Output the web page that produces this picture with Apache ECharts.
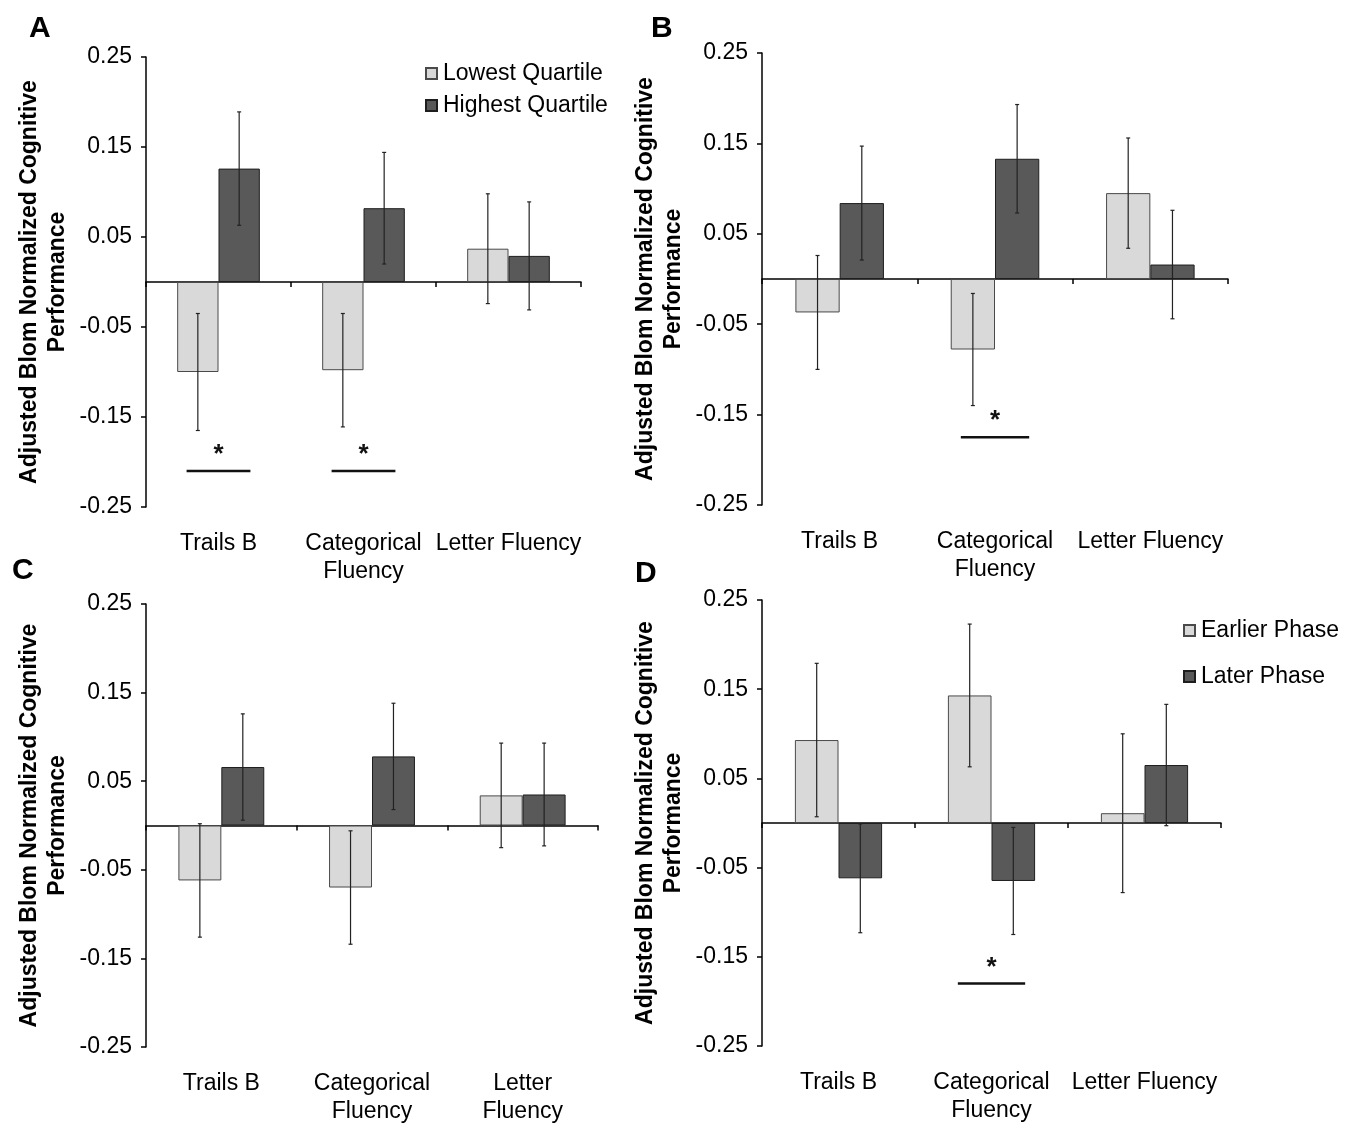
<!DOCTYPE html>
<html><head><meta charset="utf-8">
<script src="https://cdn.jsdelivr.net/npm/echarts@6/dist/echarts.min.js"></script>
<style>html,body{margin:0;padding:0;background:#fff}#c{width:1349px;height:1126px}</style>
</head><body><div id="c"></div>
<script>
// ---- data ----
const catsA = ['Trails B', 'Categorical\nFluency', 'Letter Fluency'];
const catsB = ['Trails B', 'Categorical\nFluency', 'Letter Fluency'];
const catsC = ['Trails B', 'Categorical\nFluency', 'Letter\nFluency'];
const catsD = ['Trails B', 'Categorical\nFluency', 'Letter Fluency'];
const yTicks = [-0.25, -0.15, -0.05, 0.05, 0.15, 0.25];

const namesQ = ['Lowest Quartile', 'Highest Quartile'];
const namesP = ['Earlier Phase', 'Later Phase'];

const aLow = [-0.100, -0.098, 0.037];
const aHigh = [0.126, 0.082, 0.029];
const aLowErr = [0.065, 0.063, 0.061];
const aHighErr = [0.063, 0.062, 0.060];

const bLow = [-0.037, -0.078, 0.095];
const bHigh = [0.084, 0.133, 0.016];
const bLowErr = [0.063, 0.062, 0.061];
const bHighErr = [0.063, 0.060, 0.060];

const cLow = [-0.062, -0.070, 0.034];
const cHigh = [0.066, 0.078, 0.035];
const cLowErr = [0.064, 0.064, 0.059];
const cHighErr = [0.060, 0.060, 0.058];

const dEarly = [0.093, 0.143, 0.011];
const dLate = [-0.062, -0.065, 0.065];
const dEarlyErr = [0.086, 0.080, 0.089];
const dLateErr = [0.061, 0.060, 0.068];

// significance markers: [category index, value]
const sigA = [[0, -0.21], [1, -0.21]];
const sigB = [[1, -0.175]];
const sigC = [];
const sigD = [[1, -0.18]];

// ---- styles ----
const FONT = 'Liberation Sans, Arial, sans-serif';
const FS = 23;
const LIGHT = {color: '#d9d9d9', borderColor: '#4a4a4a', borderWidth: 1};
const DARK = {color: '#595959', borderColor: '#1e1e1e', borderWidth: 1};
const CAT_GAP = 0.43;

const grids = [
  {left: 146, top: 57, width: 435, height: 450},
  {left: 762, top: 53, width: 466, height: 452},
  {left: 146, top: 604, width: 452, height: 444},
  {left: 762, top: 600, width: 459, height: 446}
];

const panels = [
  {cats: catsA, s: [aLow, aHigh], e: [aLowErr, aHighErr], sig: sigA, names: namesQ},
  {cats: catsB, s: [bLow, bHigh], e: [bLowErr, bHighErr], sig: sigB, names: namesQ},
  {cats: catsC, s: [cLow, cHigh], e: [cLowErr, cHighErr], sig: sigC, names: namesQ},
  {cats: catsD, s: [dEarly, dLate], e: [dEarlyErr, dLateErr], sig: sigD, names: namesP}
];

const xAxis = [], yAxis = [], series = [];
panels.forEach((p, i) => {
  xAxis.push({
    gridIndex: i, type: 'category', data: p.cats,
    axisLine: {onZero: true, lineStyle: {color: '#000', width: 1.5}},
    axisTick: {show: true, alignWithLabel: false, length: 5, lineStyle: {color: '#000', width: 1.5}},
    axisLabel: {show: false}, splitLine: {show: false}
  });
  xAxis.push({
    gridIndex: i, type: 'category', data: p.cats, position: 'bottom',
    axisLine: {show: false, onZero: false}, axisTick: {show: false},
    axisLabel: {show: true, margin: 23, fontSize: FS, lineHeight: 28, color: '#000', fontFamily: FONT, interval: 0}
  });
  yAxis.push({
    gridIndex: i, type: 'value', min: yTicks[0], max: yTicks[yTicks.length - 1], interval: 0.1,
    name: 'Adjusted Blom Normalized Cognitive\nPerformance', nameLocation: 'middle', nameGap: 74,
    nameTextStyle: {fontSize: FS, fontWeight: 'bold', color: '#000', fontFamily: FONT, lineHeight: 28},
    axisLine: {show: true, onZero: false, lineStyle: {color: '#000', width: 1.5}},
    axisTick: {show: true, length: 5, lineStyle: {color: '#000', width: 1.5}},
    axisLabel: {fontSize: FS, color: '#000', fontFamily: FONT, margin: 14, formatter: v => v.toFixed(2)},
    splitLine: {show: false}
  });
  const xi = i * 2;
  [0, 1].forEach(k => {
    series.push({
      type: 'bar', name: p.names[k], xAxisIndex: xi, yAxisIndex: i,
      data: p.s[k], barGap: '0%', barCategoryGap: (CAT_GAP * 100) + '%',
      itemStyle: k === 0 ? LIGHT : DARK, z: 2
    });
  });
  const errData = [];
  [0, 1].forEach(k => p.s[k].forEach((v, j) => errData.push([j, v - p.e[k][j], v + p.e[k][j], k])));
  series.push({
    type: 'custom', xAxisIndex: xi, yAxisIndex: i, z: 5, silent: true,
    data: errData,
    renderItem: (params, api) => {
      const cat = api.value(0), lo = api.value(1), hi = api.value(2), k = api.value(3);
      const band = api.size([1, 0])[0];
      const bw = band * (1 - CAT_GAP) / 2;
      const cx = api.coord([cat, 0])[0] + (k === 0 ? -bw / 2 : bw / 2);
      const yl = api.coord([cat, lo])[1], yh = api.coord([cat, hi])[1];
      const st = {stroke: '#222', lineWidth: 1.2};
      return {type: 'group', children: [
        {type: 'line', shape: {x1: cx, y1: yl, x2: cx, y2: yh}, style: st},
        {type: 'line', shape: {x1: cx - 2, y1: yl, x2: cx + 2, y2: yl}, style: st},
        {type: 'line', shape: {x1: cx - 2, y1: yh, x2: cx + 2, y2: yh}, style: st}
      ]};
    }
  });
  if (p.sig.length) {
    series.push({
      type: 'custom', xAxisIndex: xi, yAxisIndex: i, z: 5, silent: true,
      data: p.sig,
      renderItem: (params, api) => {
        const cat = api.value(0), v = api.value(1);
        const band = api.size([1, 0])[0];
        const pt = api.coord([cat, v]);
        const half = band * 0.22;
        return {type: 'group', children: [
          {type: 'line', shape: {x1: pt[0] - half, y1: pt[1], x2: pt[0] + half, y2: pt[1]}, style: {stroke: '#111', lineWidth: 2.5}},
          {type: 'text', x: pt[0], y: pt[1] - 3, style: {text: '*', fontSize: 26, fontWeight: 'bold', fill: '#111', align: 'center', verticalAlign: 'bottom', fontFamily: FONT}}
        ]};
      }
    });
  }
});

const option = {
  animation: false,
  backgroundColor: '#fff',
  grid: grids.map(g => Object.assign({containLabel: false}, g)),
  xAxis, yAxis, series,
  legend: [
    {data: namesQ, orient: 'vertical', left: 420, top: 57, itemWidth: 11, itemHeight: 11, itemGap: 9, icon: 'rect',
     textStyle: {fontSize: FS, color: '#000', fontFamily: FONT, padding: [0, 0, 0, 1]}},
    {data: namesP, orient: 'vertical', left: 1178, top: 614, itemWidth: 11, itemHeight: 11, itemGap: 23, icon: 'rect',
     textStyle: {fontSize: FS, color: '#000', fontFamily: FONT, padding: [0, 0, 0, 1]}}
  ],
  graphic: [
    {type: 'text', left: 29, top: 14, style: {text: 'A', fontSize: 30, fontWeight: 'bold', fill: '#000', fontFamily: FONT}},
    {type: 'text', left: 651, top: 14, style: {text: 'B', fontSize: 30, fontWeight: 'bold', fill: '#000', fontFamily: FONT}},
    {type: 'text', left: 12, top: 556, style: {text: 'C', fontSize: 30, fontWeight: 'bold', fill: '#000', fontFamily: FONT}},
    {type: 'text', left: 635, top: 559, style: {text: 'D', fontSize: 30, fontWeight: 'bold', fill: '#000', fontFamily: FONT}}
  ]
};
const chart = echarts.init(document.getElementById('c'), null, {renderer: 'canvas'});
chart.setOption(option);
</script></body></html>
